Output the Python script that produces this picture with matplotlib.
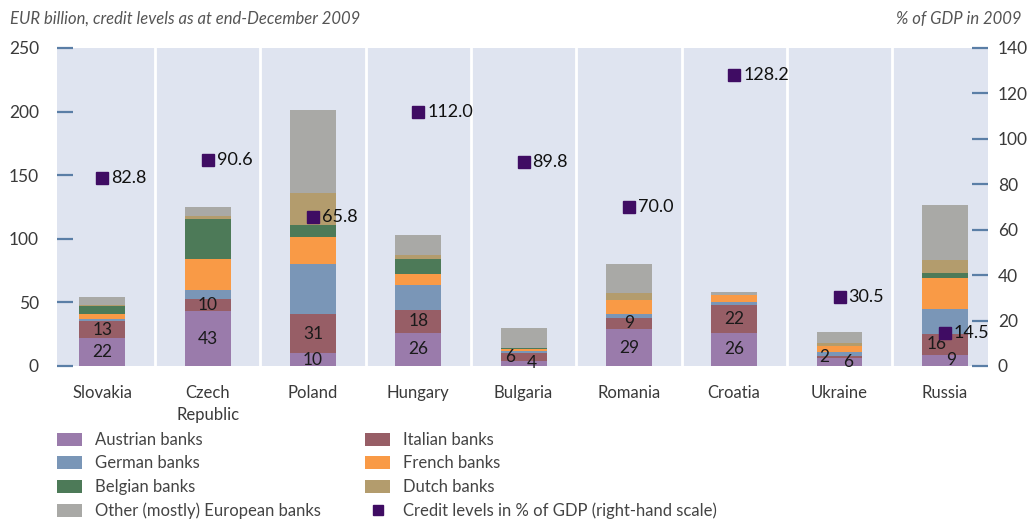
import matplotlib
matplotlib.use("Agg")
from matplotlib import pyplot as plt
from matplotlib.patches import Patch
from matplotlib.lines import Line2D
import numpy as np

plt.rcParams["font.family"] = ["Lato", "DejaVu Sans"]

countries = ["Slovakia", "Czech\nRepublic", "Poland", "Hungary", "Bulgaria",
             "Romania", "Croatia", "Ukraine", "Russia"]

# EUR billion by parent-bank nationality, stacked bottom to top
austrian = [22, 43, 10, 26, 4, 29, 26, 6, 9]
italian = [13, 10, 31, 18, 6, 9, 22, 2, 16]
german = [2, 7, 39, 20, 1.5, 2.5, 2, 3, 20]
french = [4, 24, 21.5, 8, 2, 11, 5.5, 5, 24]
belgian = [6.5, 31.5, 9.5, 12, 1, 0, 0, 0, 4]
dutch = [0.5, 2.5, 25, 3, 0, 5.5, 0, 2.4, 10]
other = [6, 7, 65.5, 16, 15, 23, 2.5, 8, 43.5]

# credit levels in % of GDP (right-hand scale)
gdp_share = [82.8, 90.6, 65.8, 112.0, 89.8, 70.0, 128.2, 30.5, 14.5]

series = [
    ("Austrian banks", austrian, "#9a7bab"),
    ("Italian banks", italian, "#975e66"),
    ("German banks", german, "#7a96b7"),
    ("French banks", french, "#f99a46"),
    ("Belgian banks", belgian, "#4d7a58"),
    ("Dutch banks", dutch, "#b39c6d"),
    ("Other (mostly) European banks", other, "#a9a9a6"),
]
marker_col = "#3f0c63"
tick_col = "#5a7ea6"
txt_col = "#3a3a3a"

# horizontal nudges (pixels) for the labels on thin segments
aut_dx = [0, 0, 0, 0, 8, 0, 0, 9, 6]
ita_dx = [0, 0, 0, 0, -13, 0, 0, -15, -8]

fig = plt.figure(figsize=(10.32, 5.2), dpi=100)
ax = fig.add_axes([57 / 1032, 154 / 520, 931 / 1032, 318 / 520])
ax.set_facecolor("#dfe4f0")
for s in ax.spines.values():
    s.set_visible(False)

x = np.arange(len(countries))
bottom = np.zeros(len(countries))
for name, vals, col in series:
    ax.bar(x, vals, width=0.436, bottom=bottom, color=col, linewidth=0, zorder=3)
    bottom += np.array(vals)

# values written on the Austrian and Italian segments
for i in range(len(countries)):
    ax.annotate(str(austrian[i]), (x[i], austrian[i] / 2), xytext=(aut_dx[i], 0),
                textcoords="offset pixels", ha="center", va="center",
                fontsize=12.5, color="#1a1a1a", zorder=5)
    ax.annotate(str(italian[i]), (x[i], austrian[i] + italian[i] / 2), xytext=(ita_dx[i], 0),
                textcoords="offset pixels", ha="center", va="center",
                fontsize=12.5, color="#1a1a1a", zorder=5)

for sep in x[:-1] + 0.5:
    ax.axvline(sep, color="white", lw=2, zorder=1)

ax.set_xlim(-0.43, 8.41)
ax.set_ylim(0, 250)
ax.set_yticks(range(0, 251, 50))
ax.set_xticks(x)
ax.set_xticklabels(countries, fontsize=12, color=txt_col, linespacing=1.45)
ax.tick_params(axis="x", length=0, pad=14)
ax.tick_params(axis="y", direction="in", length=11.5, width=1.6, color=tick_col,
               labelsize=12.5, labelcolor=txt_col, pad=13)

ax2 = ax.twinx()
for s in ax2.spines.values():
    s.set_visible(False)
ax2.set_ylim(0, 140)
ax2.set_yticks(range(0, 141, 20))
ax2.tick_params(axis="y", direction="in", length=11.5, width=1.6, color=tick_col,
                labelsize=12.5, labelcolor=txt_col, pad=7)
ax2.plot(x, gdp_share, ls="none", marker="s", ms=8, color=marker_col, zorder=6, clip_on=False)
for i, v in enumerate(gdp_share):
    ax2.annotate(f"{v:.1f}", (x[i], v), xytext=(9, 0), textcoords="offset pixels",
                 ha="left", va="center", fontsize=13, color="#111111", zorder=7)

fig.text(10 / 1032, 1 - 19 / 520, "EUR billion, credit levels as at end-December 2009",
         fontsize=12, style="italic", color="#555555", va="center", ha="left")
fig.text(1022 / 1032, 1 - 19 / 520, "% of GDP in 2009",
         fontsize=12, style="italic", color="#555555", va="center", ha="right")

# two-column legend, each column placed separately
handles = [Patch(facecolor=c, edgecolor="none") for _, _, c in series]
labels = [n for n, _, _ in series]
cred = Line2D([], [], ls="none", marker="s", ms=7, color=marker_col)
col1 = [0, 2, 4, 6]
col2 = [1, 3, 5]
leg_kw = dict(frameon=False, fontsize=12, handlelength=1.5, handleheight=0.85,
              handletextpad=0.8, labelspacing=0.45, borderpad=0, borderaxespad=0,
              labelcolor="#444444")
leg1 = fig.legend([handles[k] for k in col1], [labels[k] for k in col1],
                  loc="upper left", bbox_to_anchor=(57 / 1032, 1 - 432 / 520), **leg_kw)
leg2 = fig.legend([handles[k] for k in col2] + [cred],
                  [labels[k] for k in col2] + ["Credit levels in % of GDP (right-hand scale)"],
                  loc="upper left", bbox_to_anchor=(365 / 1032, 1 - 432 / 520), **leg_kw)

fig.savefig("out.png", dpi=100)
